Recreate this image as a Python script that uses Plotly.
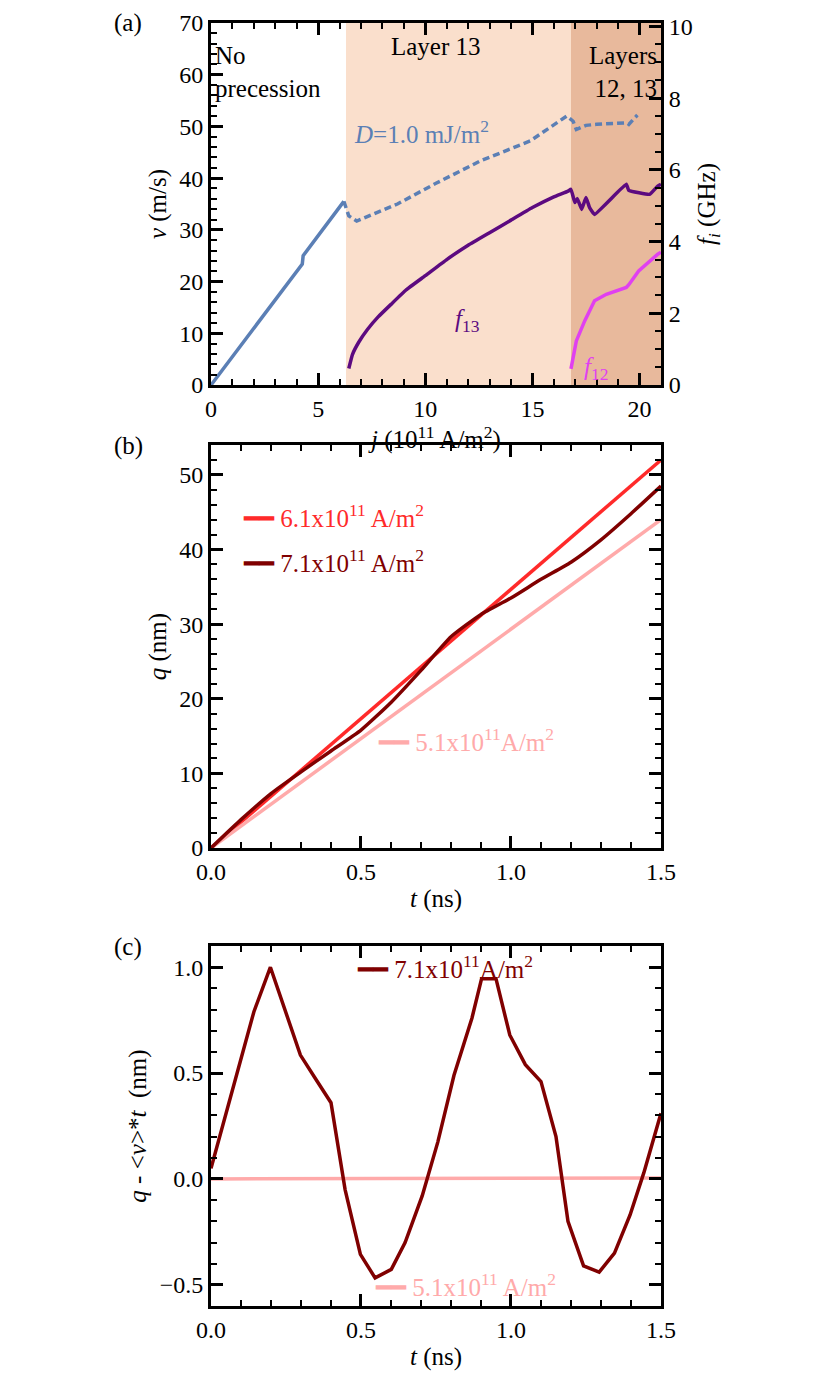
import plotly.graph_objects as go

# panel (a): velocity and precession frequencies vs current density
j_solid = [0, 4.26, 4.3, 6.2]
v_solid = [0, 23.4, 25.0, 35.5]
j_dash = [6.2, 6.43, 6.8, 8.7, 10.5, 12.56, 14.9, 16.6, 16.9, 17.05, 17.5, 18.0, 19.4, 19.5, 19.9]
v_dash = [35.5, 32.7, 31.7, 35.0, 39.0, 43.3, 47.2, 52.0, 51.0, 49.4, 50.2, 50.4, 50.7, 50.4, 52.2]
j_f13 = [6.43, 6.6, 6.9, 7.3, 7.8, 8.4, 9.1, 10.0, 11.0, 12.0, 13.0, 14.0, 15.0, 16.0, 16.67,
         16.8, 16.98, 17.1, 17.3, 17.5, 17.67, 17.9, 19.38, 19.5, 20.47, 20.85, 21.0]
f13 = [0.46, 0.85, 1.2, 1.55, 1.9, 2.25, 2.65, 3.05, 3.5, 3.9, 4.25, 4.6, 4.95, 5.25, 5.41,
       5.46, 5.09, 5.2, 4.9, 5.23, 4.95, 4.76, 5.6, 5.43, 5.32, 5.55, 5.6]
j_f12 = [16.8, 17.05, 17.44, 17.9, 18.45, 19.38, 19.5, 19.96, 20.85, 21.0]
f12 = [0.45, 1.23, 1.79, 2.35, 2.53, 2.72, 2.8, 3.18, 3.65, 3.7]
region_edges = [6.3, 16.8, 21.0]

# panel (b): position vs time
t_lin = [0, 1.5]
q_61 = [0, 52]
q_51 = [0, 44]
t_71 = [0, 0.1, 0.2, 0.3, 0.4, 0.5, 0.6, 0.7, 0.8, 0.9, 1.0, 1.1, 1.2, 1.3, 1.4, 1.5]
q_71 = [0, 3.8, 7.3, 10.2, 13.0, 15.8, 19.5, 23.8, 28.3, 31.3, 33.5, 36.0, 38.3, 41.3, 44.8, 48.5]

# panel (c): deviation from mean motion
t_c = [0, 0.143, 0.198, 0.252, 0.298, 0.35, 0.4, 0.447, 0.498, 0.547, 0.601, 0.647, 0.704,
       0.756, 0.81, 0.87, 0.902, 0.95, 0.996, 1.048, 1.1, 1.15, 1.19, 1.242, 1.294, 1.345,
       1.397, 1.443, 1.5]
dq_71 = [0.05, 0.79, 1.0, 0.78, 0.585, 0.47, 0.36, -0.05, -0.356, -0.467, -0.427, -0.3, -0.08,
         0.174, 0.49, 0.76, 0.946, 0.946, 0.68, 0.54, 0.46, 0.2, -0.2, -0.41, -0.44, -0.35,
         -0.17, 0.03, 0.31]
dq_51 = [0, 0.005]

BLUE = "#5b7fb5"
PURPLE = "#5c0a80"
MAGENTA = "#e040f0"
RED = "#ff2a2a"
DARK = "#800000"
PINK = "#ffaaaa"
FONT = "Liberation Serif"

fig = go.Figure()
fig.add_trace(go.Scatter(x=j_solid, y=v_solid, mode="lines", line=dict(color=BLUE, width=3.5),
                         xaxis="x", yaxis="y"))
fig.add_trace(go.Scatter(x=j_dash, y=v_dash, mode="lines", line=dict(color=BLUE, width=3.5, dash="7px,4px"),
                         xaxis="x", yaxis="y"))
fig.add_trace(go.Scatter(x=j_f13, y=f13, mode="lines", line=dict(color=PURPLE, width=3.5, shape="spline", smoothing=0.3),
                         xaxis="x", yaxis="y4"))
fig.add_trace(go.Scatter(x=j_f12, y=f12, mode="lines", line=dict(color=MAGENTA, width=3.5),
                         xaxis="x", yaxis="y4"))

fig.add_trace(go.Scatter(x=t_lin, y=q_61, mode="lines", line=dict(color=RED, width=3.5),
                         xaxis="x2", yaxis="y2"))
fig.add_trace(go.Scatter(x=t_lin, y=q_51, mode="lines", line=dict(color=PINK, width=3.5),
                         xaxis="x2", yaxis="y2"))
fig.add_trace(go.Scatter(x=t_71, y=q_71, mode="lines", line=dict(color=DARK, width=3.5, shape="spline", smoothing=0.5),
                         xaxis="x2", yaxis="y2"))

fig.add_trace(go.Scatter(x=t_lin, y=dq_51, mode="lines", line=dict(color=PINK, width=3.5),
                         xaxis="x3", yaxis="y3"))
fig.add_trace(go.Scatter(x=t_c, y=dq_71, mode="lines", line=dict(color=DARK, width=3.5),
                         xaxis="x3", yaxis="y3"))

fig.add_vrect(x0=region_edges[0], x1=region_edges[1], fillcolor="#fadfcc", line_width=0,
              layer="below", xref="x", yref="y")
fig.add_vrect(x0=region_edges[1], x1=region_edges[2], fillcolor="#e8b99c", line_width=0,
              layer="below", xref="x", yref="y")

xdom = [0.2446, 0.7867]
doms = {"a": [0.7254, 0.9891], "b": [0.3882, 0.6817], "c": [0.0546, 0.3168]}


def ax(dom, rng, dtick, minor, title, anchor, standoff=6, **kw):
    d = dict(domain=dom, range=rng, dtick=dtick, anchor=anchor, showgrid=False, zeroline=False,
             automargin=False,
             showline=True, linecolor="black", linewidth=3, mirror="ticks", ticks="inside",
             ticklen=12, tickwidth=2.5, tickcolor="black",
             minor=dict(dtick=minor, ticks="inside", ticklen=6, tickwidth=2, tickcolor="black"),
             tickfont=dict(size=24, family=FONT, color="black"),
             title=dict(text=title, font=dict(size=25, family=FONT, color="black"), standoff=standoff))
    d.update(kw)
    return d


fig.update_layout(
    width=830, height=1373, margin=dict(l=0, r=0, t=0, b=0),
    paper_bgcolor="white", plot_bgcolor="white", showlegend=False,
    xaxis=ax(xdom, [0, 21], 5, 1, "<i>j</i> (10<sup>11</sup> A/m<sup>2</sup>)", "y"),
    yaxis=ax(doms["a"], [0, 70], 10, 2, "<i>v</i> (m/s)", "x", mirror=True),
    yaxis4=ax(doms["a"], [0, 10.1], 2, 0.5, "<i>f<sub>i</sub></i> (GHz)", "x",
              overlaying="y", side="right", mirror=False),
    xaxis2=ax(xdom, [0, 1.5], 0.5, 0.1, "<i>t</i> (ns)", "y2", tickformat=".1f"),
    yaxis2=ax(doms["b"], [0, 54], 10, 2, "<i>q</i> (nm)", "x2"),
    xaxis3=ax(xdom, [0, 1.5], 0.5, 0.1, "<i>t</i> (ns)", "y3", tickformat=".1f"),
    yaxis3=ax(doms["c"], [-0.6, 1.1], 0.5, 0.1, "<i>q</i> - &lt;<i>v</i>&gt;*<i>t</i>  (nm)", "x3",
              tickformat=".1f"),
)

def note(x, y, text, color="black", xanchor="left", xref="paper", yref="paper", size=25, align="left"):
    fig.add_annotation(x=x, y=y, xref=xref, yref=yref, text=text, showarrow=False,
                       xanchor=xanchor, yanchor="middle", align=align,
                       font=dict(size=size, family=FONT, color=color))

note(0.125, 0.989, "(a)")
note(0.125, 0.681, "(b)")
note(0.125, 0.316, "(c)")
note(0.1, 60.5, "No<br>precession", xref="x", yref="y")
note(8.3, 65.5, "Layer 13", xref="x", yref="y")
note(20.9, 60.5, "Layers<br>12, 13", xref="x", yref="y", xanchor="right", align="right")
note(6.6, 49, "<i>D</i>=1.0 mJ/m<sup>2</sup>", color=BLUE, xref="x", yref="y")
note(11.3, 12.5, "<i>f</i><sub>13</sub>", color=PURPLE, xref="x", yref="y")
note(17.3, 3.2, "<i>f</i><sub>12</sub>", color=MAGENTA, xref="x", yref="y")

note(0.1, 44.5, "━━ 6.1x10<sup>11</sup> A/m<sup>2</sup>", color=RED, xref="x2", yref="y2")
note(0.1, 38.5, "━━ 7.1x10<sup>11</sup> A/m<sup>2</sup>", color=DARK, xref="x2", yref="y2")
note(0.55, 14.5, "━━ 5.1x10<sup>11</sup>A/m<sup>2</sup>", color=PINK, xref="x2", yref="y2")

note(0.48, 1.0, "━━ 7.1x10<sup>11</sup>A/m<sup>2</sup>", color=DARK, xref="x3", yref="y3")
note(0.54, -0.5, "━━ 5.1x10<sup>11</sup> A/m<sup>2</sup>", color=PINK, xref="x3", yref="y3")

fig.write_html("out.html")
